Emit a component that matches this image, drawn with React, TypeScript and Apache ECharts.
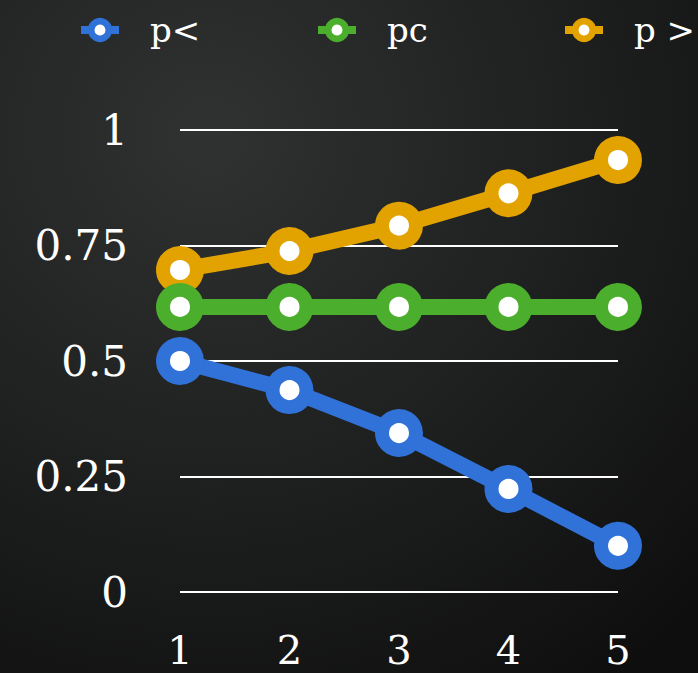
import React, { useEffect, useRef } from "react";
import * as echarts from "echarts";

const xValues = [1, 2, 3, 4, 5];
const pLess = [0.5, 0.437, 0.344, 0.223, 0.1];
const pc = [0.617, 0.617, 0.617, 0.617, 0.617];
const pGreater = [0.697, 0.738, 0.793, 0.863, 0.935];
const seriesNames = ["p<", "pc", "p >"];
const colors = ["#3072d8", "#4bae2c", "#e2a200"];

const FONT = "DejaVu Serif";

export default function App() {
  const ref = useRef<HTMLDivElement>(null);
  useEffect(() => {
    document.body.style.margin = "0";
    const chart = echarts.init(ref.current!, null, { renderer: "svg" });
    const datasets = [pLess, pc, pGreater];
    const zs = [4, 3, 2];
    const legendLefts = [72, 309, 556];
    chart.setOption({
      animation: false,
      backgroundColor: new echarts.graphic.RadialGradient(0.3, 0.2, 1.0, [
        { offset: 0, color: "#303232" },
        { offset: 0.5, color: "#1f2020" },
        { offset: 1, color: "#0e0e0e" },
      ]),
      legend: seriesNames.map((n, i) => ({
        top: 8,
        left: legendLefts[i],
        itemWidth: 38,
        itemHeight: 22,
        lineStyle: { width: 8 },
        itemStyle: { borderWidth: 6.5 },
        textStyle: {
          color: "#ffffff",
          fontFamily: FONT,
          fontSize: 34,
          padding: [0, 0, 0, 26],
        },
        data: [n],
      })),
      grid: { left: 180, right: 80, top: 130, bottom: 81, containLabel: false },
      xAxis: {
        type: "value",
        min: 1,
        max: 5,
        interval: 1,
        axisLine: { show: false },
        axisTick: { show: false },
        splitLine: { show: false },
        axisLabel: {
          color: "#ffffff",
          fontFamily: FONT,
          fontSize: 40,
          margin: 38,
        },
      },
      yAxis: {
        type: "value",
        min: 0,
        max: 1,
        interval: 0.25,
        axisLine: { show: false },
        axisTick: { show: false },
        splitLine: { lineStyle: { color: "#ffffff", width: 2 } },
        axisLabel: {
          color: "#ffffff",
          fontFamily: FONT,
          fontSize: 42,
          margin: 52,
        },
      },
      series: datasets.map((d, i) => ({
        name: seriesNames[i],
        type: "line",
        z: zs[i],
        data: d.map((v, j) => [xValues[j], v]),
        symbol: "circle",
        symbolSize: 34,
        showAllSymbol: true,
        color: colors[i],
        lineStyle: { color: colors[i], width: 16 },
        itemStyle: { color: "#ffffff", borderColor: colors[i], borderWidth: 14 },
      })),
    });
    return () => chart.dispose();
  }, []);
  return <div ref={ref} style={{ width: 698, height: 673 }} />;
}
